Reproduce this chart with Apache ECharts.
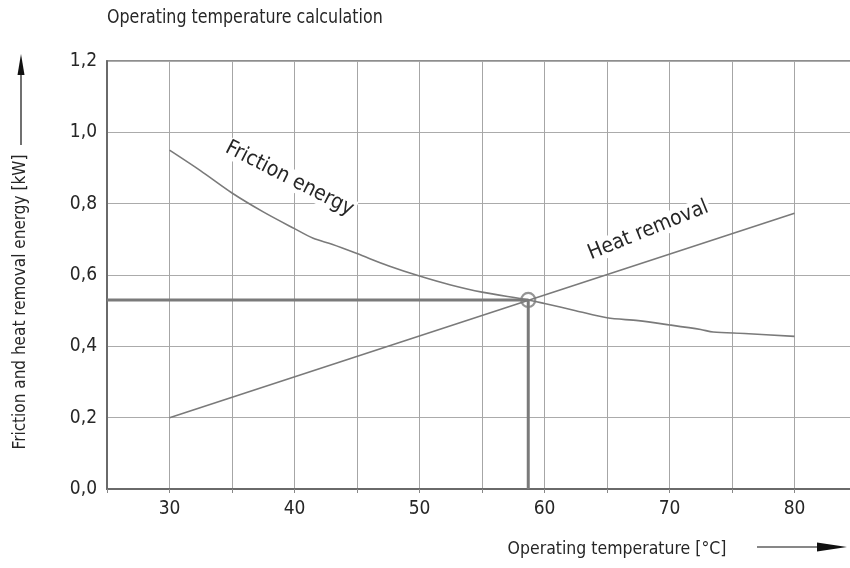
<!DOCTYPE html>
<html>
<head>
<meta charset="utf-8">
<script src="https://cdn.jsdelivr.net/npm/echarts@6/dist/echarts.min.js"></script>
<style>
  html, body { margin: 0; padding: 0; background: #fff; }
  #chart { width: 850px; height: 568px; }
</style>
</head>
<body>
<div id="chart"></div>
<script>
// Temperature axis (°C) and energy values (kW)
const frictionTemp = [30, 32.5, 35, 37.5, 40, 41.5, 43, 45, 47.5, 50, 52.5, 55, 58.7, 60, 62.5, 65, 67.5, 70, 72.5, 73.5, 76, 80];
const frictionEnergy = [0.95, 0.892, 0.83, 0.777, 0.73, 0.703, 0.686, 0.66, 0.626, 0.597, 0.572, 0.552, 0.53, 0.52, 0.5, 0.48, 0.472, 0.46, 0.447, 0.44, 0.436, 0.428];
const heatTemp = [30, 80];
const heatEnergy = [0.2, 0.773];
// Operating point where both curves meet
const operatingTemp = 58.7;
const operatingEnergy = 0.53;
const yTicks = [0, 0.2, 0.4, 0.6, 0.8, 1.0, 1.2];

const FONT = '"DejaVu Sans Condensed", "Liberation Sans Narrow", "Liberation Sans", sans-serif';
const LINE = '#7a7a7a';
const TEXT = '#262626';

const zip = (xs, ys) => xs.map((x, i) => [x, ys[i]]);

const chart = echarts.init(document.getElementById('chart'), null, { renderer: 'canvas' });

chart.setOption({
  animation: false,
  backgroundColor: '#ffffff',
  grid: {
    left: 107, top: 61, bottom: 79, width: 762.5,
    outerBoundsMode: 'none', containLabel: false,
    show: true, borderColor: '#6a6a6a', borderWidth: 1.5, backgroundColor: 'transparent'
  },
  xAxis: {
    type: 'value', min: 25, max: 86, interval: 5,
    axisLine: { show: true, onZero: false, lineStyle: { color: '#6a6a6a', width: 2 } },
    axisTick: { show: true, length: 4, inside: false, lineStyle: { color: '#888', width: 1 } },
    axisLabel: {
      margin: 11, color: TEXT, fontFamily: FONT, fontSize: 19,
      formatter: v => (v % 10 === 0 ? String(v) : '')
    },
    splitLine: { show: true, lineStyle: { color: '#a6a6a6', width: 1 } }
  },
  yAxis: {
    type: 'value', min: 0, max: 1.2, interval: 0.2,
    axisLine: { show: true, lineStyle: { color: '#6a6a6a', width: 2 } },
    axisTick: { show: false },
    axisLabel: {
      margin: 10, color: TEXT, fontFamily: FONT, fontSize: 19,
      formatter: v => (yTicks.find(t => Math.abs(t - v) < 1e-6) ?? v).toFixed(1).replace('.', ',')
    },
    splitLine: { show: true, lineStyle: { color: '#ababab', width: 1 } }
  },
  series: [
    {
      name: 'Operating point guides',
      type: 'line',
      data: [[25, operatingEnergy], [operatingTemp, operatingEnergy], [operatingTemp, 0]],
      symbol: 'none',
      lineStyle: { color: LINE, width: 3 },
      z: 3
    },
    {
      name: 'Friction energy',
      type: 'line',
      data: zip(frictionTemp, frictionEnergy),
      smooth: 0.3,
      symbol: 'none',
      lineStyle: { color: LINE, width: 1.6 },
      z: 4
    },
    {
      name: 'Heat removal',
      type: 'line',
      data: zip(heatTemp, heatEnergy),
      symbol: 'none',
      lineStyle: { color: LINE, width: 1.6 },
      z: 4
    },
    {
      name: 'Operating point',
      type: 'scatter',
      data: [[operatingTemp, operatingEnergy]],
      symbol: 'circle',
      symbolSize: 14,
      itemStyle: { color: 'rgba(255,255,255,0)', borderColor: LINE, borderWidth: 2.2 },
      z: 5
    }
  ]
});

// Curve captions, placed in data coordinates
const frictionPos = chart.convertToPixel({ gridIndex: 0 }, [39.6, 0.87]);
const heatPos = chart.convertToPixel({ gridIndex: 0 }, [68.3, 0.725]);

const captionStyle = (text) => ({
  text: text,
  fill: TEXT,
  font: '21px ' + FONT,
  align: 'center',
  verticalAlign: 'middle',
  backgroundColor: '#ffffff',
  padding: [0, 2]
});

chart.setOption({
  graphic: [
    {
      type: 'text', x: 107, y: 18, scaleX: 0.93,
      style: { text: 'Operating temperature calculation', fill: TEXT, font: '19px ' + FONT, verticalAlign: 'middle' }
    },
    {
      type: 'text', x: frictionPos[0], y: frictionPos[1], rotation: -27 * Math.PI / 180, z: 10,
      style: captionStyle('Friction energy')
    },
    {
      type: 'text', x: heatPos[0], y: heatPos[1], rotation: 22 * Math.PI / 180, z: 10,
      style: captionStyle('Heat removal')
    },
    // vertical axis title with its arrow
    {
      type: 'text', x: 21, y: 302, rotation: Math.PI / 2,
      style: { text: 'Friction and heat removal energy [kW]', fill: TEXT, font: '17px ' + FONT, align: 'center', verticalAlign: 'middle' }
    },
    {
      type: 'line', shape: { x1: 21, y1: 145, x2: 21, y2: 70 },
      style: { stroke: '#111', lineWidth: 1.2 }
    },
    {
      type: 'polygon', shape: { points: [[21, 54], [17.5, 75], [24.5, 75]] },
      style: { fill: '#111' }
    },
    // horizontal axis title with its arrow
    {
      type: 'text', x: 617, y: 549,
      style: { text: 'Operating temperature [°C]', fill: TEXT, font: '17.5px ' + FONT, align: 'center', verticalAlign: 'middle' }
    },
    {
      type: 'line', shape: { x1: 757, y1: 547, x2: 822, y2: 547 },
      style: { stroke: '#111', lineWidth: 1.2 }
    },
    {
      type: 'polygon', shape: { points: [[847, 547], [817, 542.5], [817, 551.5]] },
      style: { fill: '#111' }
    }
  ]
});
</script>
</body>
</html>
